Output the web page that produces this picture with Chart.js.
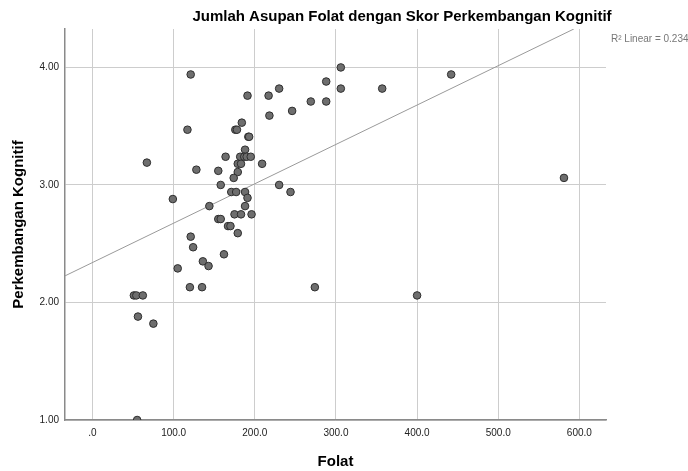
<!DOCTYPE html>
<html>
<head>
<meta charset="utf-8">
<script src="https://cdn.jsdelivr.net/npm/chart.js@4/dist/chart.umd.min.js"></script>
<style>
html,body{margin:0;padding:0;background:#fff;}
#wrap{width:688px;height:471px;position:relative;}
</style>
</head>
<body>
<div id="wrap"><canvas id="c" width="688" height="471"></canvas></div>
<script>
// Folat (x) values
const folat = [121,117,67,99,128,144,155,164,158,176,178,184,191,192,193,188,182,187,190,195,
  179,183,209,179,174,230,171,177,188,244,191,188,175,183,196,155,158,167,170,179,
  162,136,143,135,274,121,124,105,120,51,54,62,56,75,55,306,288,306,230,217,
  269,288,246,218,357,442,581,400];
// Perkembangan Kognitif (y) values
const kognitif = [3.94,3.47,3.19,2.88,3.13,2.82,3.12,3.24,3.00,3.47,3.47,3.53,3.76,3.41,3.41,3.30,3.24,3.24,3.24,3.24,
  3.18,3.18,3.18,3.11,3.06,3.00,2.94,2.94,2.94,2.94,2.89,2.82,2.75,2.75,2.75,2.71,2.71,2.65,2.65,2.59,
  2.41,2.35,2.31,2.13,2.13,2.56,2.47,2.29,2.13,2.06,2.06,2.06,1.88,1.82,1.00,4.00,3.88,3.82,3.82,3.76,
  3.71,3.71,3.63,3.59,3.82,3.94,3.06,2.06];
const xTicks = [0,100,200,300,400,500,600];
const yTicks = [1,2,3,4];
const xRange = [-33.9, 632.8];
const yRange = [1, 4.327];
// fitted linear regression
const fit = [2.34, 0.00335]; // intercept, slope
const r2Label = ['R² Linear = 0.234'];
const titleText = ['Jumlah Asupan Folat dengan Skor Perkembangan Kognitif'];

const points = folat.map((x,i)=>({x:x,y:kognitif[i]}));
const xEnd = (yRange[1]-fit[0])/fit[1];
const linePts = [{x:xRange[0], y:fit[0]+fit[1]*xRange[0]},{x:xEnd, y:yRange[1]}];

const overlay = {
  id:'overlay',
  afterDraw(chart){
    const ctx = chart.ctx;
    ctx.save();
    ctx.fillStyle = '#000';
    ctx.font = 'bold 15px "Liberation Sans", Arial, sans-serif';
    ctx.textAlign = 'center';
    ctx.textBaseline = 'middle';
    ctx.fillText(titleText[0], 402, 17);
    ctx.fillStyle = '#777';
    ctx.font = '10px "Liberation Sans", Arial, sans-serif';
    ctx.textAlign = 'left';
    ctx.fillText(r2Label[0], 611, 39);
    ctx.restore();
  }
};

new Chart(document.getElementById('c'), {
  type:'scatter',
  data:{datasets:[
    {type:'line', data:linePts, borderColor:'#9a9a9a', borderWidth:1, pointRadius:0, fill:false, order:2},
    {data:points, backgroundColor:'#6e6e6e', borderColor:'#2e2e2e', borderWidth:1, pointRadius:3.8, order:1}
  ]},
  plugins:[overlay],
  options:{
    responsive:false, animation:false,
    layout:{padding:{top:29,right:82,left:10,bottom:0}},
    plugins:{legend:{display:false}, tooltip:{enabled:false}},
    scales:{
      x:{type:'linear', min:xRange[0], max:xRange[1],
        afterBuildTicks(s){ s.ticks = xTicks.map(v=>({value:v})); },
        afterFit(s){ s.height = 51; },
        grid:{color:'#cdcdcd', lineWidth:1, drawTicks:false},
        border:{color:'#8a8a8a', width:1.5},
        ticks:{color:'#222', padding:7, font:{family:'"Liberation Sans", Arial, sans-serif', size:10},
          callback:v=> v===0 ? '.0' : v.toFixed(1)},
        title:{display:true, text:'Folat', color:'#000', padding:{top:5,bottom:0},
          font:{family:'"Liberation Sans", Arial, sans-serif', size:15, weight:'bold'}}
      },
      y:{type:'linear', min:yRange[0], max:yRange[1],
        afterBuildTicks(s){ s.ticks = yTicks.map(v=>({value:v})); },
        afterFit(s){ s.width = 55; },
        grid:{color:'#cdcdcd', lineWidth:1, drawTicks:false},
        border:{color:'#8a8a8a', width:1.5},
        ticks:{color:'#222', padding:6, font:{family:'"Liberation Sans", Arial, sans-serif', size:10},
          callback:v=> v.toFixed(2)},
        title:{display:true, text:'Perkembangan Kognitif', color:'#000', padding:{top:0,bottom:4},
          font:{family:'"Liberation Sans", Arial, sans-serif', size:15, weight:'bold'}}
      }
    }
  }
});
</script>
</body>
</html>
